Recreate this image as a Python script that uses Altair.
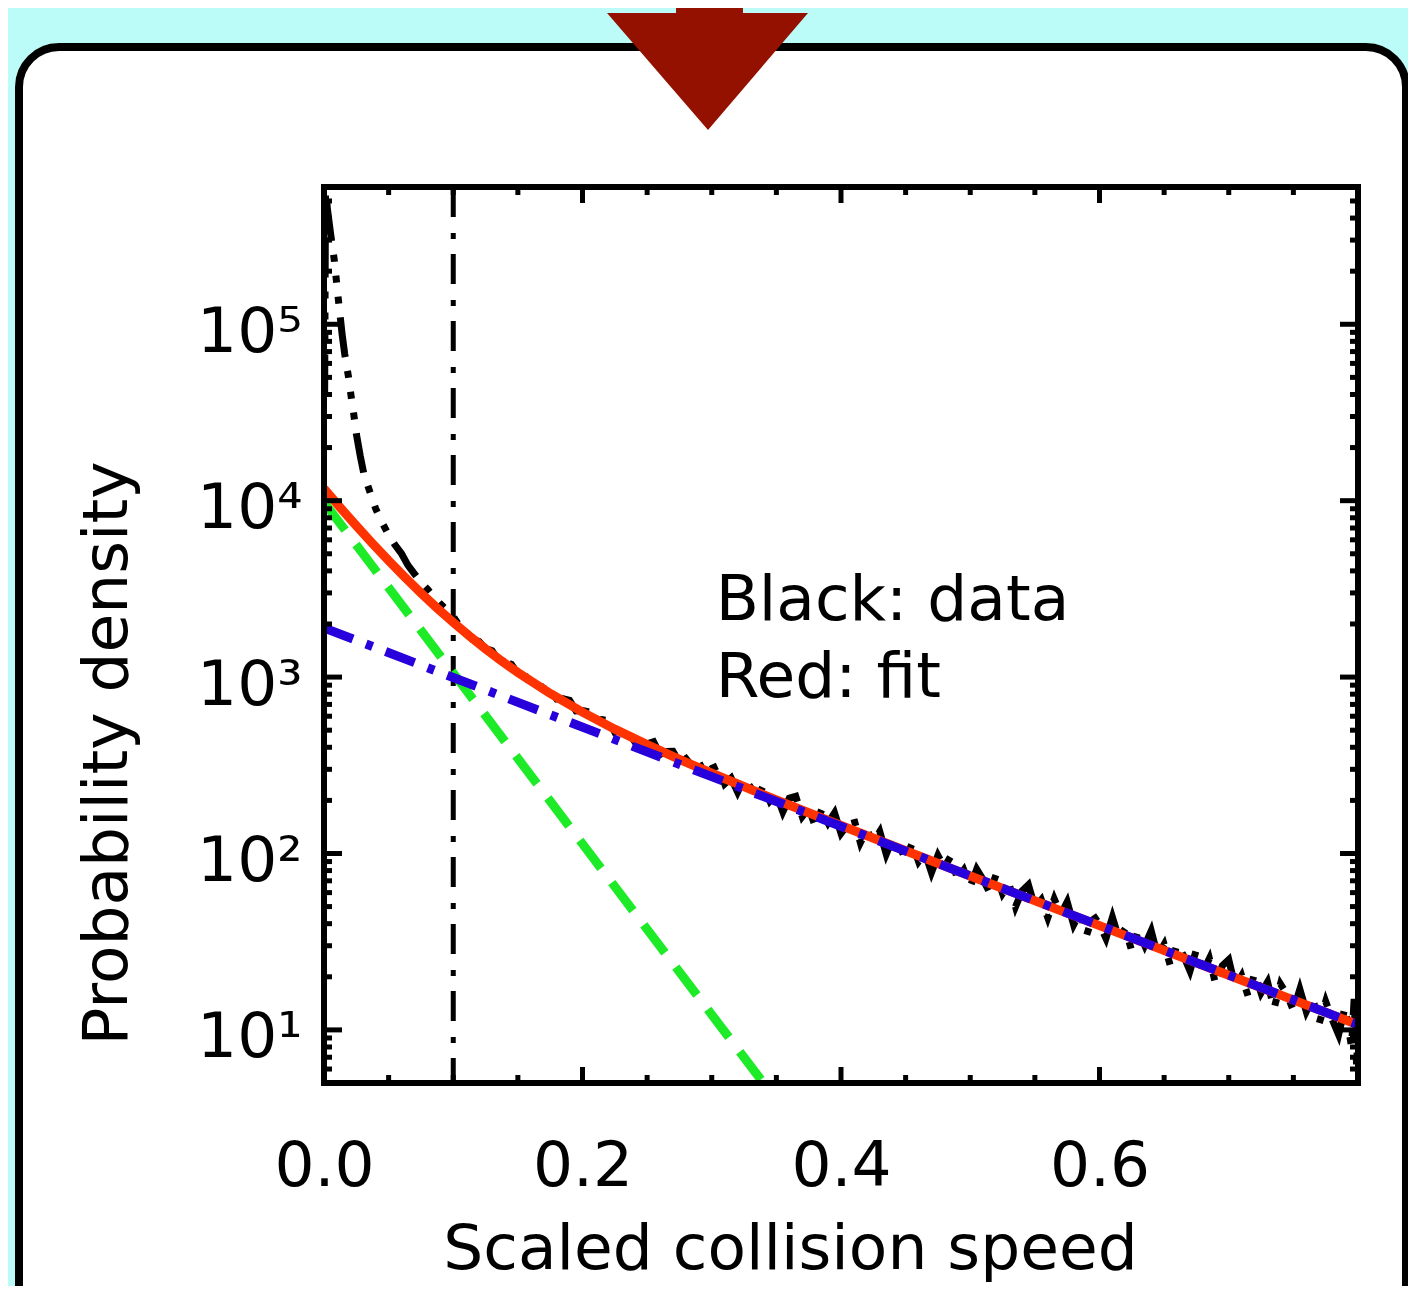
import altair as alt
import pandas as pd

# ---------------- data ----------------
# Black: data (probability density vs scaled collision speed)
black_x = [
    0.0005, 0.0012, 0.0025, 0.005, 0.008, 0.010, 0.012, 0.014, 0.016, 0.019,
    0.021, 0.023, 0.025, 0.028, 0.031, 0.035, 0.040, 0.045, 0.050, 0.055,
    0.060, 0.065, 0.070, 0.075, 0.080, 0.085, 0.090, 0.095, 0.100, 0.105,
    0.110, 0.115, 0.120, 0.125, 0.130, 0.135, 0.140, 0.145, 0.150, 0.155,
    0.160, 0.165, 0.170, 0.175, 0.180, 0.185, 0.190, 0.195, 0.200, 0.205,
    0.210, 0.215, 0.220, 0.225, 0.230, 0.235, 0.240, 0.245, 0.250, 0.255,
    0.260, 0.265, 0.270, 0.275, 0.280, 0.285, 0.290, 0.295, 0.300, 0.305,
    0.310, 0.315, 0.320, 0.325, 0.330, 0.335, 0.340, 0.345, 0.350, 0.355,
    0.360, 0.365, 0.370, 0.375, 0.380, 0.385, 0.390, 0.395, 0.400, 0.405,
    0.410, 0.415, 0.420, 0.425, 0.430, 0.435, 0.440, 0.445, 0.450, 0.455,
    0.460, 0.465, 0.470, 0.475, 0.480, 0.485, 0.490, 0.495, 0.500, 0.505,
    0.510, 0.515, 0.520, 0.525, 0.530, 0.535, 0.540, 0.545, 0.550, 0.555,
    0.560, 0.565, 0.570, 0.575, 0.580, 0.585, 0.590, 0.595, 0.600, 0.605,
    0.610, 0.615, 0.620, 0.625, 0.630, 0.635, 0.640, 0.645, 0.650, 0.655,
    0.660, 0.665, 0.670, 0.675, 0.680, 0.685, 0.690, 0.695, 0.700, 0.705,
    0.710, 0.715, 0.720, 0.725, 0.730, 0.735, 0.740, 0.745, 0.750, 0.755,
    0.760, 0.765, 0.770, 0.775, 0.780, 0.785, 0.790, 0.795, 0.797, 0.799,
    0.800,
]
black_y = [
    40000, 650000, 460000, 330000, 230000, 165000, 120000, 88000, 68000, 50000,
    39000, 31000, 24000, 18000, 14000, 11500, 9000, 7500, 6400, 5600,
    5000, 4300, 3850, 3450, 3150, 2850, 2600, 2400, 2200, 1950,
    1800, 1635, 1590, 1450, 1410, 1245, 1220, 1180, 1050, 1035,
    920, 935, 860, 850, 752, 753, 738, 643, 646, 634,
    566, 575, 566, 487, 500, 495, 435, 447, 418, 430,
    364, 379, 380, 328, 345, 311, 330, 280, 303, 315,
    248, 268, 223, 266, 238, 205, 243, 198, 217, 172,
    206, 211, 162, 181, 143, 177, 149, 170, 130, 146,
    157, 115, 136, 116, 133, 99, 121, 110, 93, 114,
    90, 101, 78, 97.5, 83.5, 96.7, 72, 80.7, 65, 81.4,
    71, 60, 76, 59.3, 67.3, 49.9, 61.2, 66.4, 49.6, 54.7,
    43.2, 55.2, 45.1, 53.2, 39.4, 46.4, 34.3, 44.8, 39.6, 33,
    43.5, 33.1, 37.5, 27.9, 36.7, 30.1, 36.4, 26.3, 30.5, 22.9,
    30.6, 26.4, 21.6, 28.6, 21.3, 25.4, 18, 23.1, 25, 17.5,
    20.3, 15.5, 21, 16.2, 18.7, 13.2, 18.2, 15.9, 12.9, 17,
    12.7, 15.1, 10.9, 14.5, 11.5, 9.4, 13.5, 8, 15, 6,
    12,
]

# Red: fit (sum of the two components)
red_x = [0.0, 0.0125, 0.025, 0.0375, 0.05, 0.0625, 0.075, 0.0875, 0.1, 0.1125,
         0.125, 0.1375, 0.15, 0.175, 0.2, 0.225, 0.25, 0.275, 0.3, 0.35,
         0.4, 0.5, 0.6, 0.7, 0.8]
red_y = [11700, 9150, 7200, 5720, 4570, 3690, 3000, 2460, 2040, 1710,
         1445, 1233, 1062, 808, 633, 507, 414, 342, 285, 201,
         144, 74.6, 39.0, 20.4, 10.7]

# Green: fast component (dashed)
green_x = [0.0, 0.34]
green_y = [9800, 5.0]

# Blue: slow component (dash-dot)
blue_x = [0.0, 0.8]
blue_y = [1900, 10.7]

# Vertical dash-dot marker
cut_x = [0.1]

# Axes
x_label_values = [0.0, 0.2, 0.4, 0.6]
x_major_ticks = [0.0, 0.2, 0.4, 0.6, 0.8]
x_minor_ticks = [0.05, 0.1, 0.15, 0.25, 0.3, 0.35, 0.45, 0.5, 0.55, 0.65, 0.7, 0.75]
y_label_values = [10, 100, 1000, 10000, 100000]
y_minor_ticks = [6, 7, 8, 9,
                 20, 30, 40, 50, 60, 70, 80, 90,
                 200, 300, 400, 500, 600, 700, 800, 900,
                 2000, 3000, 4000, 5000, 6000, 7000, 8000, 9000,
                 20000, 30000, 40000, 50000, 60000, 70000, 80000, 90000,
                 200000, 300000, 400000, 500000]
frame_x = [0.0, 0.8]
frame_y = [5, 600000]

# Annotation
note_text = ["Black: data", "Red: fit"]
note_x = [0.303, 0.303]
note_y = [2100, 771]

# ---------------- chart ----------------
W, H = 1034, 896
FONT = "DejaVu Sans"
X = alt.Scale(domain=[0, 0.8], nice=False, zero=False)
Y = alt.Scale(type="log", domain=[5, 600000], nice=False)

x_axis = alt.Axis(
    values=x_label_values, format=".1f", tickSize=0, domain=False, grid=False,
    labelFont=FONT, labelFontSize=63, labelColor="black", labelPadding=102,
    labelBaseline="alphabetic", labelFlush=False, labelOverlap=False,
    title="Scaled collision speed", titleFont=FONT, titleFontSize=63,
    titleFontWeight="normal", titleColor="black", titleX=466, titleY=185,
    titleBaseline="alphabetic", titleAlign="center", zindex=1,
)
y_axis = alt.Axis(
    values=y_label_values, tickSize=0, domain=False, grid=False,
    labelExpr="'10' + ['⁰','¹','²','³','⁴','⁵','⁶'][round(log(datum.value) / LN10)]",
    labelFont=FONT, labelFontSize=63, labelColor="black", labelPadding=22,
    labelBaseline="alphabetic", labelOffset=27, labelFlush=False, labelOverlap=False,
    title="Probability density", titleFont=FONT, titleFontSize=63,
    titleFontWeight="normal", titleColor="black", titleX=-198, titleY=566,
    titleAngle=270, titleBaseline="alphabetic", titleAlign="center", zindex=1,
)


def XE(field):
    return alt.X(field, scale=X, axis=x_axis)


def YE(field):
    return alt.Y(field, scale=Y, axis=y_axis)


black = pd.DataFrame({"x": black_x, "y": black_y})
red = pd.DataFrame({"x": red_x, "y": red_y})
green = pd.DataFrame({"x": green_x, "y": green_y})
blue = pd.DataFrame({"x": blue_x, "y": blue_y})
one = pd.DataFrame({"k": [0]})

box = alt.Chart(one).mark_rect(
    fill="white", stroke="black", strokeWidth=8, cornerRadius=40
).encode(x=alt.value(-305), x2=alt.value(1082), y=alt.value(-140), y2=alt.value(1160))

arrow_path = ("M -1 -0.517 L 1 -0.517 L 0.005 0.647 Z "
              "M -0.313 -0.75 L 0.353 -0.75 L 0.353 -0.5 L -0.313 -0.5 Z")
arrow = alt.Chart(one).mark_point(
    shape=arrow_path, filled=True, fill="#941100", strokeWidth=0, size=40401, opacity=1
).encode(x=alt.value(383.5), y=alt.value(-122))

cut = alt.Chart(pd.DataFrame({"x": cut_x})).mark_rule(
    color="black", strokeWidth=5, strokeDash=[30, 16, 6, 15]
).encode(x=XE("x:Q"))

black_line = alt.Chart(black).mark_line(
    color="black", strokeWidth=7, clip=True,
    strokeDash=[40, 14, 7, 14, 7, 14, 7, 14]
).encode(x=XE("x:Q"), y=YE("y:Q"))

green_line = alt.Chart(green).mark_line(
    color="#1EEB28", strokeWidth=9, clip=True, strokeDash=[35, 18]
).encode(x=XE("x:Q"), y=YE("y:Q"))

red_line = alt.Chart(red).mark_line(
    color="#FF3300", strokeWidth=9, clip=True
).encode(x=XE("x:Q"), y=YE("y:Q"))

blue_line = alt.Chart(blue).mark_line(
    color="#2800DC", strokeWidth=9, clip=True, strokeDash=[31, 14, 7, 14]
).encode(x=XE("x:Q"), y=YE("y:Q"))


def xticks(values, length):
    d = pd.DataFrame({"x": values})
    base = alt.Chart(d).mark_rule(color="black", strokeWidth=5)
    bottom = base.encode(x=XE("x:Q"), y=alt.value(H), y2=alt.value(H - length))
    top = base.encode(x=XE("x:Q"), y=alt.value(0), y2=alt.value(length))
    return [bottom, top]


def yticks(values, length):
    d = pd.DataFrame({"y": values})
    base = alt.Chart(d).mark_rule(color="black", strokeWidth=5)
    left = base.encode(y=YE("y:Q"), x=alt.value(0), x2=alt.value(length))
    right = base.encode(y=YE("y:Q"), x=alt.value(W), x2=alt.value(W - length))
    return [left, right]


ticks = (xticks(x_major_ticks, 16) + xticks(x_minor_ticks, 8)
         + yticks(y_label_values, 18) + yticks(y_minor_ticks, 8))

frame_v = alt.Chart(pd.DataFrame({"x": frame_x})).mark_rule(
    color="black", strokeWidth=6, strokeCap="square"
).encode(x=XE("x:Q"))
frame_h = alt.Chart(pd.DataFrame({"y": frame_y})).mark_rule(
    color="black", strokeWidth=6, strokeCap="square"
).encode(y=YE("y:Q"))

note = alt.Chart(pd.DataFrame({"x": note_x, "y": note_y, "t": note_text})).mark_text(
    align="left", baseline="alphabetic", font=FONT, fontSize=63, color="black"
).encode(x=XE("x:Q"), y=YE("y:Q"), text="t:N")

chart = alt.layer(
    box, arrow, cut, black_line, green_line, red_line, blue_line,
    *ticks, frame_v, frame_h, note
).properties(
    width=W, height=H,
    autosize=alt.AutoSizeParams(type="none"),
    padding={"left": 316, "top": 179, "right": 50, "bottom": 203},
    background="#BCFCF8",
).configure_view(strokeWidth=0)

chart.save("out.html", embed_options={"renderer": "svg", "actions": False})
